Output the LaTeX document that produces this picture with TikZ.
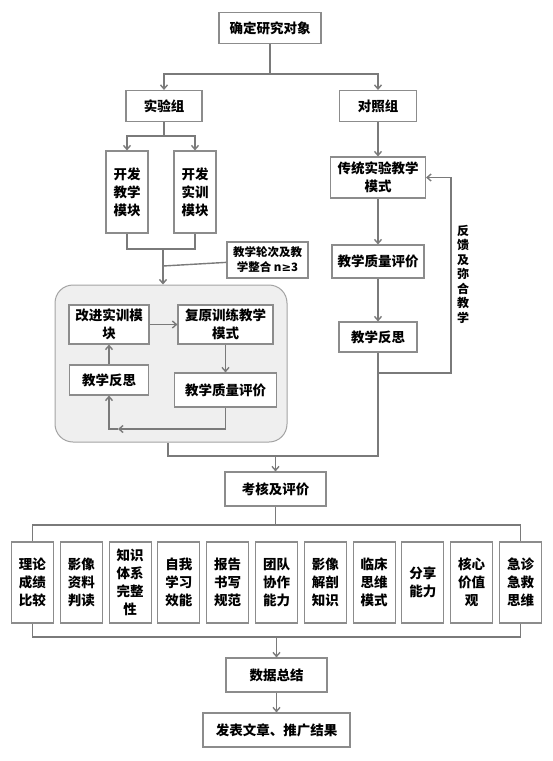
\documentclass[tikz,border=0pt]{standalone}
\usepackage{fontspec}
\setmainfont{Noto Sans CJK SC}
\newfontfamily\symfont{DejaVu Sans}
\usetikzlibrary{arrows.meta}
\definecolor{boxgray}{HTML}{8C8C8C}
\definecolor{linegray}{HTML}{7A7A7A}
\definecolor{panelgray}{HTML}{EFEFEF}

\begin{document}
\begin{tikzpicture}[x=1pt,y=-1pt,
    box/.style={draw=boxgray,fill=white,line width=1.1pt,inner sep=0pt,align=center,
      font=\bfseries\fontsize{13.5}{18}\selectfont},
    link/.style={draw=linegray,line width=1.4pt},
    arr/.style={link,-{Straight Barb[length=4pt,width=7pt]}}]

    \useasboundingbox (0,0) rectangle (552,761);

    % Start and the two groups (top)
    \node[box,minimum width=102,minimum height=31] (start) at (270,28) {确定研究对象};
    \node[box,minimum width=76,minimum height=31]  (expg)  at (164,106) {实验组};
    \node[box,minimum width=77,minimum height=31]  (ctlg)  at (378,106) {对照组};
    \coordinate (split1) at (270,74);
    \draw[link] (start) -- (split1);
    \draw[arr] (split1) -| (expg);
    \draw[arr] (split1) -| (ctlg);

    % Experimental group
    \node[box,minimum width=42,minimum height=82] (devteach) at (127,192) {开发\\教学\\模块};
    \node[box,minimum width=42,minimum height=82] (devtrain) at (195,192) {开发\\实训\\模块};
    \coordinate (split2) at (164,136);
    \draw[link] (expg) -- (split2);
    \draw[arr] (split2) -| (devteach);
    \draw[arr] (split2) -| (devtrain);
    \node[box,minimum width=81,minimum height=36,
      font=\bfseries\fontsize{11.5}{15}\selectfont] (rounds) at (267.5,260) {教学轮次及教\\学整合 n{\symfont ≥}3};

    % Grey panel with the training loop
    \node[draw=boxgray!80,fill=panelgray,line width=1pt,rounded corners=18pt,
      minimum width=232,minimum height=157] (panel) at (171,363.5) {};
    \node[box,minimum width=80,minimum height=39]  (improve) at (109,324.5) {改进实训模\\块};
    \node[box,minimum width=95,minimum height=39]  (restore) at (225.5,324.5) {复原训练教学\\模式};
    \node[box,minimum width=79,minimum height=30]  (reflleft) at (109,380) {教学反思};
    \node[box,minimum width=102,minimum height=34] (evalleft) at (225.5,390) {教学质量评价};
    \coordinate (merge1) at (163,249);
    \draw[link] (devteach) |- (merge1) -| (devtrain);
    \draw[arr] (merge1) -- (panel.north -| merge1);
    \draw[link] (163,266) -- (rounds);
    \draw[arr] (improve) -- (restore);
    \draw[arr] (restore) -- (evalleft);
    \draw[arr] (reflleft) -- (improve);
    \coordinate (loop) at (118,429);
    \draw[arr] (evalleft) |- (loop);
    \draw[arr] (loop) -| (reflleft);

    % Control group
    \node[box,minimum width=95,minimum height=41] (trad)     at (378,177.5) {传统实验教学\\模式};
    \node[box,minimum width=92,minimum height=33] (evalright) at (378,261.5) {教学质量评价};
    \node[box,minimum width=78,minimum height=30] (reflright) at (378,337) {教学反思};
    \draw[arr] (ctlg) -- (trad);
    \draw[arr] (trad) -- (evalright);
    \draw[arr] (evalright) -- (reflright);
    \coordinate (fb) at (451,373);
    \draw[arr] (reflright) |- (fb) |- (trad);
    \node[font=\bfseries\fontsize{12}{14.5}\selectfont,align=center,inner sep=0pt]
      (fblabel) at (463,274) {反\\馈\\及\\弥\\合\\教\\学};

    % Assessment
    \node[box,minimum width=101,minimum height=34] (assess) at (275.5,489) {考核及评价};
    \coordinate (join) at (275.5,456);
    \draw[link] (reflright) |- (join) -| ([xshift=-3pt]panel.south);
    \draw[arr] (join) -- (assess);

    \foreach \i/\txt in {1/{理论\\成绩\\比较},2/{影像\\资料\\判读},3/{知识\\体系\\完整\\性},
        4/{自我\\学习\\效能},5/{报告\\书写\\规范},6/{团队\\协作\\能力},7/{影像\\解剖\\知识},
        8/{临床\\思维\\模式},9/{分享\\能力},10/{核心\\价值\\观},11/{急诊\\急救\\思维}}
      \node[box,minimum width=42,minimum height=81] (item\i) at ({32.5+48.8*(\i-1)},582.5) {\txt};
    \coordinate (split3) at (275.5,525);
    \draw[link] (assess) -- (split3);
    \draw[link] (item1) |- (split3) -| (item11);

    % Summary (bottom)
    \node[box,minimum width=101,minimum height=34] (summary) at (276.5,675) {数据总结};
    \node[box,minimum width=147,minimum height=34] (publish) at (276.5,730) {发表文章、推广结果};
    \coordinate (merge2) at (276.5,637);
    \draw[link] (item1) |- (merge2) -| (item11);
    \draw[arr] (merge2) -- (summary);
    \draw[arr] (summary) -- (publish);
  \end{tikzpicture}
\end{document}
